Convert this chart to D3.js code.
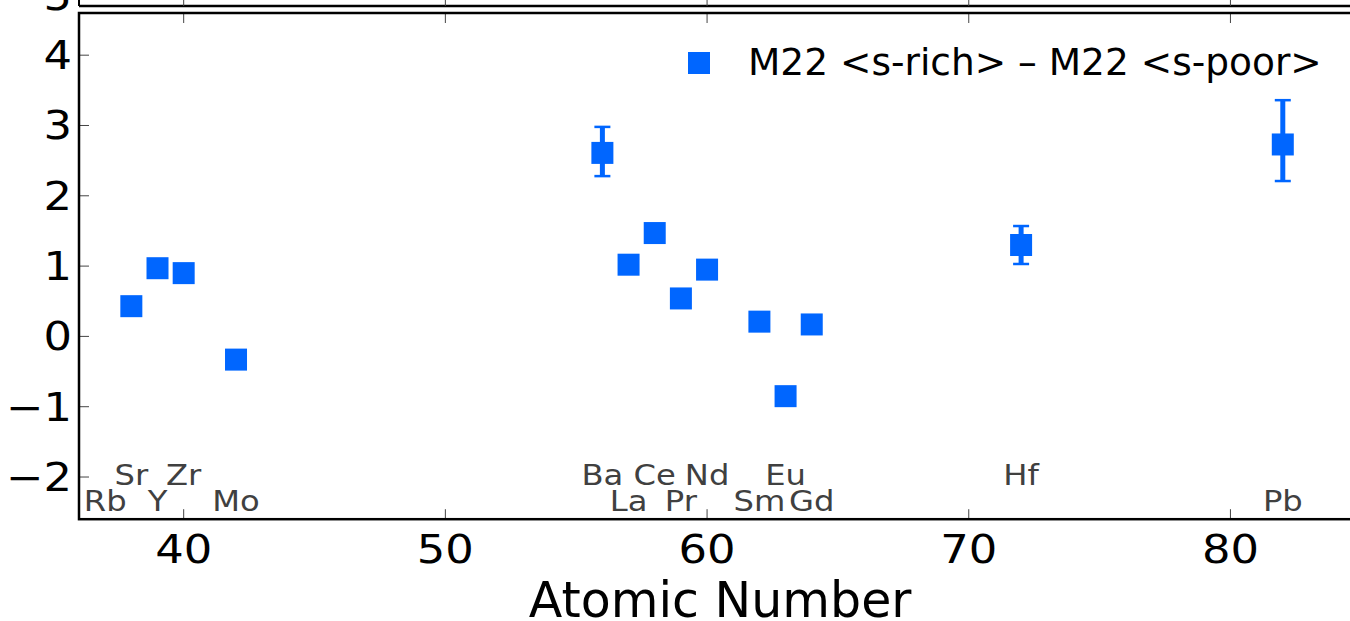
<!DOCTYPE html>
<html>
<head>
<meta charset="utf-8">
<script src="https://cdn.jsdelivr.net/npm/d3@7"></script>
<style>
  html, body { margin: 0; padding: 0; background: #fff; overflow: hidden; }
  svg { display: block; }
  text { font-family: "DejaVu Sans", sans-serif; }
</style>
</head>
<body>
<svg id="chart" width="1350" height="621"></svg>
<script>
// Element abundance differences between M22 s-rich and s-poor groups
const elements      = ["Rb", "Sr", "Y", "Zr", "Mo", "Ba", "La", "Ce", "Pr", "Nd", "Sm", "Eu", "Gd", "Hf", "Pb"];
const atomicNumbers = [37, 38, 39, 40, 42, 56, 57, 58, 59, 60, 62, 63, 64, 72, 82];
const diffValues    = [null, 0.43, 0.97, 0.90, -0.33, 2.61, 1.02, 1.47, 0.54, 0.95, 0.21, -0.85, 0.17, 1.30, 2.73];
const errLow        = [null, null, null, null, null, 0.33, null, null, null, null, null, null, null, 0.27, 0.52];
const errHigh       = [null, null, null, null, null, 0.37, null, null, null, null, null, null, null, 0.27, 0.63];
const labelRows     = [0, 1, 0, 1, 0, 1, 0, 1, 0, 1, 0, 1, 0, 1, 0];
const labelRowY     = [-2.48, -2.12];
const xTicks        = [40, 50, 60, 70, 80];
const yTicks        = [-2, -1, 0, 1, 2, 3, 4];
const upperPanelYTicks = [5];
const seriesLabel   = "M22 <s-rich> \u2013 M22 <s-poor>";
const xAxisTitle    = "Atomic Number";

const BLUE = "#0066ff";
const SX = 1.15; // horizontal stretch of the tick / element typeface

const svg = d3.select("#chart");

const x = d3.scaleLinear().domain([36, 85]).range([79, 1361.3]);
const y = d3.scaleLinear().domain([-2.6, 4.6]).range([519.2, 13.0]);

// text helper with optional horizontal stretch
function stext(g, tx, ty, str, size, anchor, fill, sx = SX) {
  return g.append("text")
    .attr("transform", `translate(${tx},${ty}) scale(${sx},1)`)
    .attr("text-anchor", anchor)
    .attr("font-size", size)
    .attr("fill", fill)
    .text(str);
}

// ---- remnant of the panel above ----
const up = svg.append("g");
up.append("line").attr("x1", x(36)).attr("x2", x(85)).attr("y1", 6).attr("y2", 6)
  .attr("stroke", "#000").attr("stroke-width", 2.5);
up.append("line").attr("x1", x(36)).attr("x2", x(36)).attr("y1", -5).attr("y2", 6)
  .attr("stroke", "#000").attr("stroke-width", 2);
xTicks.forEach(t => {
  up.append("line").attr("x1", x(t)).attr("x2", x(t)).attr("y1", -4).attr("y2", 6)
    .attr("stroke", "#444").attr("stroke-width", 1);
});
upperPanelYTicks.forEach(t => stext(up, 72, 10, String(t), 39, "end", "#000"));

// ---- main panel ----
const g = svg.append("g");

// ticks pointing inward on all four sides
const tickLen = 10;
xTicks.forEach(t => {
  g.append("line").attr("x1", x(t)).attr("x2", x(t)).attr("y1", y(-2.6)).attr("y2", y(-2.6) - tickLen)
    .attr("stroke", "#444").attr("stroke-width", 1);
  g.append("line").attr("x1", x(t)).attr("x2", x(t)).attr("y1", y(4.6)).attr("y2", y(4.6) + tickLen)
    .attr("stroke", "#444").attr("stroke-width", 1);
  stext(g, x(t), 563, String(t), 39, "middle", "#000");
});
yTicks.forEach(t => {
  g.append("line").attr("x1", x(36)).attr("x2", x(36) + tickLen).attr("y1", y(t)).attr("y2", y(t))
    .attr("stroke", "#444").attr("stroke-width", 1);
  g.append("line").attr("x1", x(85)).attr("x2", x(85) - tickLen).attr("y1", y(t)).attr("y2", y(t))
    .attr("stroke", "#444").attr("stroke-width", 1);
  const lab = t < 0 ? "\u2212" + Math.abs(t) : String(t);
  stext(g, 72, y(t) + 14, lab, 39, "end", "#000");
});

// frame
g.append("rect").attr("x", x(36)).attr("y", y(4.6)).attr("width", x(85) - x(36)).attr("height", y(-2.6) - y(4.6))
  .attr("fill", "none").attr("stroke", "#000").attr("stroke-width", 2.5);

// element labels
elements.forEach((el, i) => {
  stext(g, x(atomicNumbers[i]), y(labelRowY[labelRows[i]]), el, 28, "middle", "#404040");
});

// error bars
const capW = 16;
atomicNumbers.forEach((z, i) => {
  if (diffValues[i] == null || errLow[i] == null) return;
  const v = diffValues[i];
  const y0 = y(v - errLow[i]), y1 = y(v + errHigh[i]);
  g.append("line").attr("x1", x(z)).attr("x2", x(z)).attr("y1", y0).attr("y2", y1)
    .attr("stroke", BLUE).attr("stroke-width", 5);
  [y0, y1].forEach(yy => g.append("line")
    .attr("x1", x(z) - capW / 2).attr("x2", x(z) + capW / 2).attr("y1", yy).attr("y2", yy)
    .attr("stroke", BLUE).attr("stroke-width", 2.5));
});

// markers
const ms = 22;
atomicNumbers.forEach((z, i) => {
  if (diffValues[i] == null) return;
  g.append("rect").attr("x", x(z) - ms / 2).attr("y", y(diffValues[i]) - ms / 2)
    .attr("width", ms).attr("height", ms).attr("fill", BLUE);
});

// legend
const leg = g.append("g");
leg.append("rect").attr("x", 688).attr("y", 52).attr("width", ms).attr("height", ms).attr("fill", BLUE);
stext(leg, 748, 75, seriesLabel, 37.5, "start", "#000", 1);

// x-axis title
stext(g, (x(36) + x(85)) / 2, 617, xAxisTitle, 49, "middle", "#000", 1);
</script>
</body>
</html>
